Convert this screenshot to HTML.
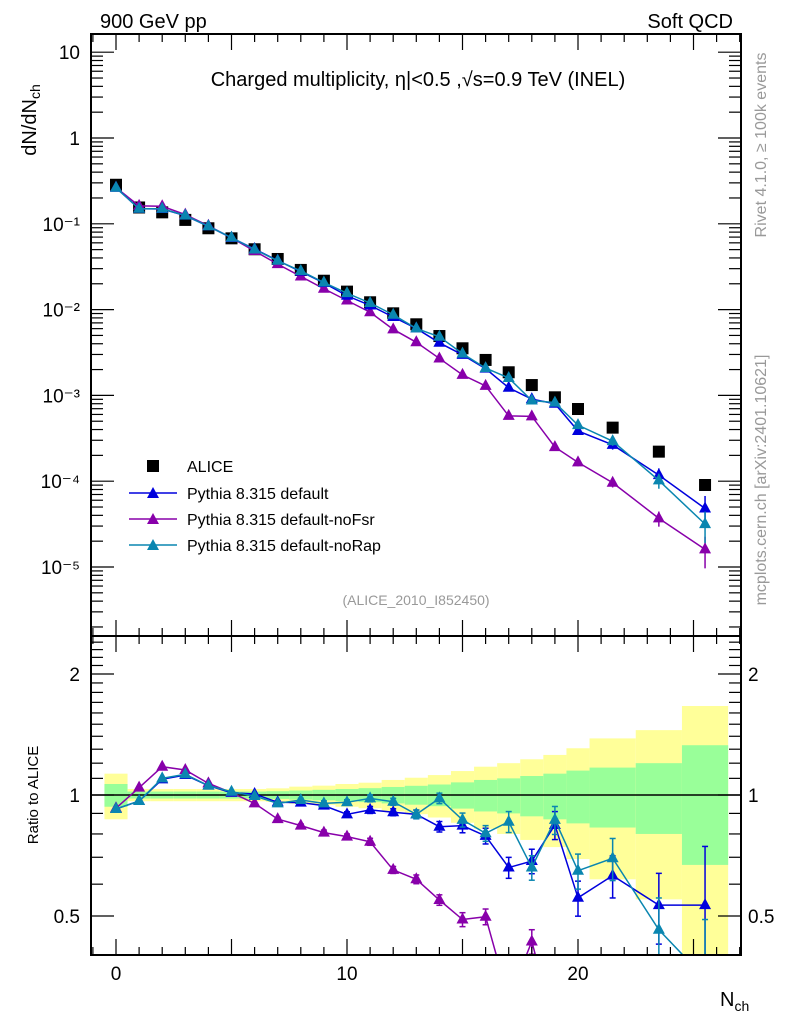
<!DOCTYPE html>
<html><head><meta charset="utf-8"><style>
html,body{margin:0;padding:0;background:#fff;overflow:hidden}
svg{display:block}
svg text{font-family:"Liberation Sans",sans-serif}
</style></head><body>
<svg id="c" width="786" height="1024" xmlns="http://www.w3.org/2000/svg">
<text x="100" y="28" font-size="20">900 GeV pp</text>
<text x="733" y="28" font-size="20" text-anchor="end">Soft QCD</text>
<text x="418" y="86" font-size="20" text-anchor="middle">Charged multiplicity, η|&lt;0.5 ,√s=0.9 TeV (INEL)</text>
<text transform="translate(36,120) rotate(-90)" font-size="20" text-anchor="middle">dN/dN<tspan font-size="14" dy="4">ch</tspan></text>
<text transform="translate(38,795) rotate(-90)" font-size="15" text-anchor="middle">Ratio to ALICE</text>
<text x="720" y="1006" font-size="20">N<tspan font-size="14" dy="5">ch</tspan></text>
<text transform="translate(766,145) rotate(-90)" font-size="16" fill="#999" text-anchor="middle">Rivet 4.1.0, ≥ 100k events</text>
<text transform="translate(766,480) rotate(-90)" font-size="16" fill="#999" text-anchor="middle">mcplots.cern.ch [arXiv:2401.10621]</text>
<text x="416" y="605" font-size="14" fill="#999" text-anchor="middle">(ALICE_2010_I852450)</text>
<g id="bands"></g><g id="marks"></g><g id="axes"></g>
<g>
<rect x="147" y="460" width="12" height="12" fill="#000"/>
<text x="187" y="472" font-size="16">ALICE</text>
<line x1="129" x2="177" y1="493" y2="493" stroke="#0000dd" stroke-width="1.5"/><polygon points="153,487 147,498 159,498" fill="#0000dd"/>
<text x="187" y="499" font-size="16">Pythia 8.315 default</text>
<line x1="129" x2="177" y1="519" y2="519" stroke="#8800aa" stroke-width="1.5"/><polygon points="153,513 147,524 159,524" fill="#8800aa"/>
<text x="187" y="525" font-size="16">Pythia 8.315 default-noFsr</text>
<line x1="129" x2="177" y1="545" y2="545" stroke="#0a86b0" stroke-width="1.5"/><polygon points="153,539 147,550 159,550" fill="#0a86b0"/>
<text x="187" y="551" font-size="16">Pythia 8.315 default-noRap</text>
</g>
</svg>
<script>
const xs=[0,1,2,3,4,5,6,7,8,9,10,11,12,13,14,15,16,17,18,19,20,21.5,23.5,25.5];
const alice=[0.285,0.155,0.136,0.111,0.0887,0.0677,0.0505,0.0389,0.029,0.0217,0.0162,0.01217,0.00905,0.00674,0.00492,0.00354,0.00259,0.00186,0.00132,0.00095,0.000694,0.000421,0.000221,0.0000903];
const ratioDefault=[0.923,0.966,1.094,1.121,1.055,1.013,1.006,0.959,0.957,0.941,0.895,0.918,0.906,0.895,0.834,0.839,0.791,0.66,0.685,0.842,0.555,0.63,0.532,0.532];
const ratioNoFsr=[0.927,1.043,1.176,1.154,1.069,1.013,0.953,0.871,0.839,0.806,0.788,0.765,0.651,0.617,0.548,0.49,0.498,0.31,0.432,0.263,0.239,0.228,0.167,0.178];
const ratioNoRap=[0.923,0.966,1.1,1.126,1.055,1.019,0.994,0.953,0.972,0.953,0.959,0.981,0.962,0.895,0.981,0.867,0.803,0.858,0.66,0.867,0.648,0.696,0.462,0.35];
const relErr=[0,0,0,0,0,0,0,0.01,0.01,0.015,0.015,0.02,0.02,0.025,0.03,0.04,0.045,0.06,0.07,0.08,0.1,0.12,0.2,0.4];
const binEdges=[-0.5,0.5,1.5,2.5,3.5,4.5,5.5,6.5,7.5,8.5,9.5,10.5,11.5,12.5,13.5,14.5,15.5,16.5,17.5,18.5,19.5,20.5,22.5,24.5,26.5];
const yellowHalf=[0.13,0.035,0.035,0.035,0.035,0.035,0.035,0.039,0.049,0.055,0.065,0.073,0.09,0.104,0.121,0.147,0.176,0.2,0.227,0.258,0.307,0.383,0.45,0.665];
const greenHalf=[0.065,0.02,0.02,0.02,0.02,0.02,0.02,0.022,0.026,0.03,0.035,0.04,0.047,0.054,0.062,0.075,0.09,0.1,0.115,0.13,0.15,0.17,0.2,0.33];
const mainTicks=["10","1","10\u207B\u00B9","10\u207B\u00B2","10\u207B\u00B3","10\u207B\u2074","10\u207B\u2075"];
const ratioTicks=[2,1,0.5];
const xTicks=[0,10,20];

const L=91,R=741,T=34,M=636,B=955;
const X=n=>116+23.1*n;
const Y=v=>138-85.8*Math.log10(v);
const YR=r=>795-121*Math.log2(r);
const NS="http://www.w3.org/2000/svg";
function mk(tag,at,parent){const e=document.createElementNS(NS,tag);for(const k in at)e.setAttribute(k,at[k]);document.getElementById(parent).appendChild(e);return e;}
for(let i=0;i<yellowHalf.length;i++){
 const x1=Math.max(X(binEdges[i]),L),x2=Math.min(X(binEdges[i+1]),R);
 const yt=Math.max(YR(1+yellowHalf[i]),M),yb=Math.min(YR(Math.max(1-yellowHalf[i],0.01)),B);
 const r=mk('rect',{x:x1,y:yt,width:x2-x1,height:yb-yt,fill:'#ffff99'},'bands');
 
 
 const gt=YR(1+greenHalf[i]),gb=YR(1-greenHalf[i]);
 const g=mk('rect',{x:x1,y:gt,width:x2-x1,height:gb-gt,fill:'#99ff99'},'bands');
 
 
}
mk('line',{x1:L,x2:R,y1:YR(1),y2:YR(1),stroke:'#000','stroke-width':1.5},'bands');
const defs=mk('defs',{},'marks');
const cp1=document.createElementNS(NS,'clipPath');cp1.setAttribute('id','cm');defs.appendChild(cp1);
const r1=document.createElementNS(NS,'rect');r1.setAttribute('x',L);r1.setAttribute('y',T);r1.setAttribute('width',R-L);r1.setAttribute('height',M-T);cp1.appendChild(r1);
const cp2=document.createElementNS(NS,'clipPath');cp2.setAttribute('id','cr');defs.appendChild(cp2);
const r2=document.createElementNS(NS,'rect');r2.setAttribute('x',L);r2.setAttribute('y',M);r2.setAttribute('width',R-L);r2.setAttribute('height',B-M);cp2.appendChild(r2);
mk('g',{'clip-path':'url(#cm)',id:'gm'},'marks');
mk('g',{'clip-path':'url(#cr)',id:'gr'},'marks');
alice.forEach((v,i)=>{const s=mk('rect',{x:X(xs[i])-6,y:Y(v)-6,width:12,height:12,fill:'#000'},'gm');
 
 });
function tri(x,y,c,p){return mk('polygon',{points:`${x},${y-7} ${x-6},${y+4} ${x+6},${y+4}`,fill:c},p);}
function series(ratio,c,name){
 const mp=ratio.map((r,i)=>[X(xs[i]),Y(alice[i]*r)]);
 const pl=mk('polyline',{points:mp.join(' '),fill:'none',stroke:c,'stroke-width':1.5},'gm');
 
 
 const rp=ratio.map((r,i)=>[X(xs[i]),YR(r)]);
 const pr=mk('polyline',{points:rp.join(' '),fill:'none',stroke:c,'stroke-width':1.5},'gr');
 
 
 ratio.forEach((r,i)=>{
  const x=X(xs[i]),e=relErr[i]*r,v=alice[i]*r;
  if(e>0){
   mk('line',{x1:x,x2:x,y1:Y(v*(1+relErr[i])),y2:Y(Math.max(v*(1-relErr[i]),1e-9)),stroke:c,'stroke-width':1.5},'gm');
   mk('line',{x1:x,x2:x,y1:YR(r+e),y2:YR(Math.max(r-e,0.01)),stroke:c,'stroke-width':1.5},'gr');
   [YR(r+e),YR(Math.max(r-e,0.01))].forEach(yy=>mk('line',{x1:x-3,x2:x+3,y1:yy,y2:yy,stroke:c,'stroke-width':1.5},'gr'));
  }
  const a=tri(x,Y(v),c,'gm');
  
  
  const b=tri(x,YR(r),c,'gr');
  
  
 });
}
series(ratioNoFsr,'#8800aa','nofsr');
series(ratioDefault,'#0000dd','default');
series(ratioNoRap,'#0a86b0','norap');
function ln(a,b,c,d,w){mk('line',{x1:a,y1:b,x2:c,y2:d,stroke:'#000','stroke-width':w||1.5},'axes');}
mk('rect',{x:L,y:T,width:R-L,height:M-T,fill:'none',stroke:'#000','stroke-width':2},'axes');
mk('rect',{x:L,y:M,width:R-L,height:B-M,fill:'none',stroke:'#000','stroke-width':2},'axes');
for(let d=1;d>=-6;d--){
 for(let m=1;m<10;m++){const y=Y(m*Math.pow(10,d));if(y<T||y>M)continue;const len=m==1?23:12;ln(L,y,L+len,y,1.2);ln(R,y,R-len,y,1.2);}
}
mainTicks.forEach((t,i)=>{const el=mk('text',{x:80,y:Y(Math.pow(10,1-i))+7,'font-size':19,'text-anchor':'end'},'axes');el.textContent=t;
 
 });
for(let r=0.4;r<=2.5;r+=0.1){const y=YR(r);if(y<M||y>B)continue;const maj=[0.5,1,2].some(q=>Math.abs(q-r)<1e-6);const len=maj?23:12;ln(L,y,L+len,y,1.2);ln(R,y,R-len,y,1.2);}
ratioTicks.forEach(t=>{const y=YR(t)+7;
 const a=mk('text',{x:80,y:y,'font-size':19,'text-anchor':'end'},'axes');a.textContent=String(t);
 
 
 const b=mk('text',{x:748,y:y,'font-size':19},'axes');b.textContent=String(t);
 
 });
for(let n=-1;n<=27;n++){const x=X(n);if(x<=L||x>=R)continue;const len=n%5==0?16:8;
 ln(x,T,x,T+len,1.2);ln(x,M,x,M-len,1.2);ln(x,M,x,M+len,1.2);ln(x,B,x,B-len,1.2);}
xTicks.forEach(t=>{const el=mk('text',{x:X(t),y:980,'font-size':19,'text-anchor':'middle'},'axes');el.textContent=String(t);
 
 });
</script>
</body></html>
